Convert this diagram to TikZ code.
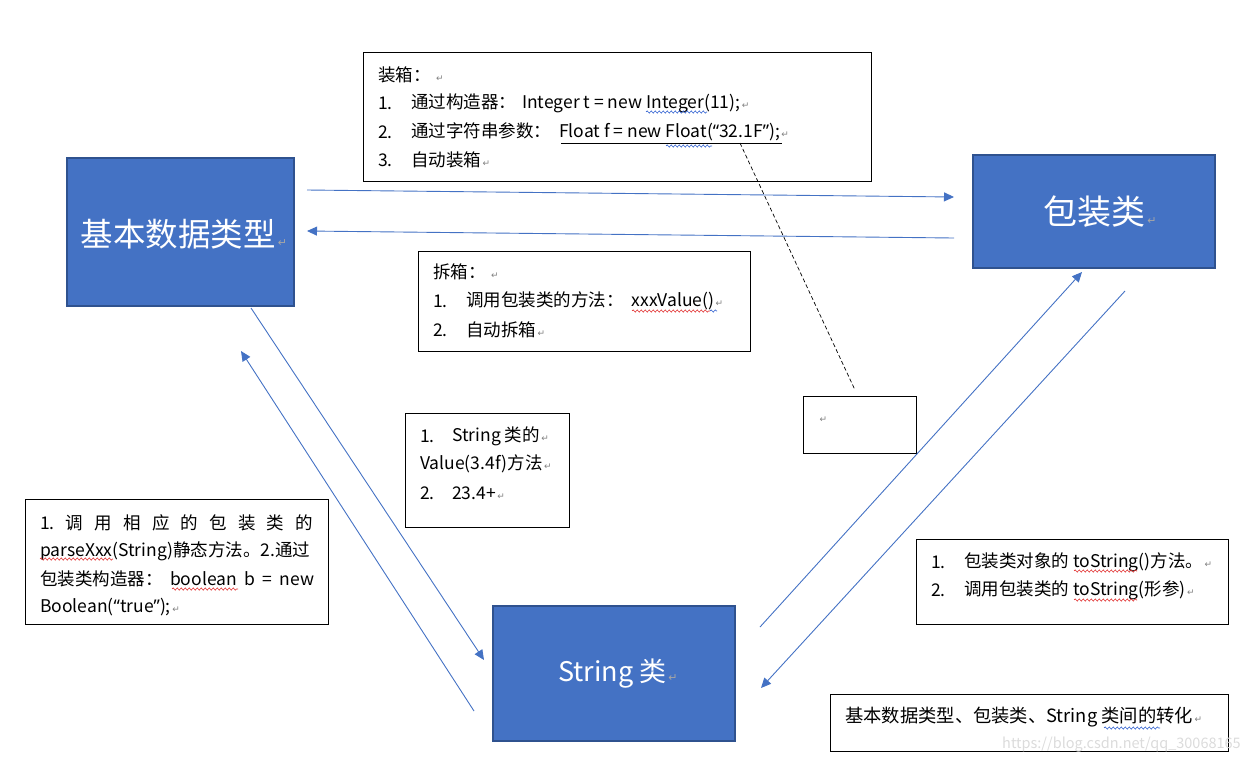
\documentclass[tikz,border=0pt]{standalone}
\usepackage{fontspec}
\usetikzlibrary{arrows.meta,decorations.pathmorphing}
\setmainfont{Noto Sans CJK SC}
\newfontfamily\cjk{Noto Sans CJK SC}
\newfontfamily\dvs{DejaVu Sans}
\newfontfamily\latq{Noto Sans}
\definecolor{boxblue}{HTML}{4472C4}
\definecolor{boxedge}{HTML}{2F528F}
\definecolor{lineblue}{HTML}{4472C4}
\definecolor{sqred}{HTML}{E03030}
\definecolor{sqblue}{HTML}{3060D0}
\newcommand{\retmk}{{\color{gray}\dvs\fontsize{9}{9}\selectfont\,↵}}
\newcommand{\bigretmk}{{\color{gray!70}\dvs\fontsize{11}{11}\selectfont\,↵}}
\newcommand{\oqt}{{\latq “}}
\newcommand{\cqt}{{\latq ”}}
\tikzset{
  bigbox/.style={draw=boxedge, fill=boxblue, line width=1.4pt, text=white, inner sep=0pt},
  notebox/.style={draw=black, line width=0.9pt, inner sep=0pt},
  conn/.style={draw=lineblue, line width=0.9pt, -{Triangle[length=10pt,width=9pt]}},
  txt/.style={anchor=west, inner sep=0pt, font=\cjk\fontsize{17.5}{17.5}\selectfont},
  sq/.style={line width=0.6pt, decorate, decoration={snake, amplitude=1.1pt, segment length=4pt}},
}
\begin{document}
\begin{tikzpicture}[x=1pt,y=-1pt]
\useasboundingbox (0,0) rectangle (1250,764);
% big boxes
\node[bigbox, minimum width=227pt, minimum height=148pt] (basic) at (180.5,232) {};
\node[bigbox, minimum width=242pt, minimum height=113pt] (wrap) at (1094,211.5) {};
\node[bigbox, minimum width=242pt, minimum height=135pt] (str) at (614,673.5) {};
\node[inner sep=0pt, text=white, font=\cjk\fontsize{32.5}{32.5}\selectfont] (basicT) at (184,234) {基本数据类型\bigretmk};
\node[inner sep=0pt, text=white, font=\cjk\fontsize{34}{34}\selectfont] (wrapT) at (1100,212) {包装类\bigretmk};
\node[inner sep=0pt, text=white, font=\cjk\fontsize{27}{27}\selectfont] (strT) at (618,674) {String 类\bigretmk};
% note boxes
\node[notebox, minimum width=508pt, minimum height=129pt] (boxing) at (617,116.5) {};
\node[notebox, minimum width=332pt, minimum height=100pt] (unbox) at (584,301) {};
\node[notebox, minimum width=164pt, minimum height=114pt] (strnote) at (487,470) {};
\node[notebox, minimum width=303pt, minimum height=125pt] (leftnote) at (176.5,561.5) {};
\node[notebox, minimum width=312pt, minimum height=85pt] (rightnote) at (1072,581.5) {};
\node[notebox, minimum width=398pt, minimum height=57pt] (caption) at (1029,722.5) {};
\node[notebox, minimum width=113pt, minimum height=57pt] (empty) at (859.5,424.5) {};
% boxing text
\node[txt] (b0) at (378,75) {装箱：\ \retmk};
\node[txt] (b1n) at (378,103) {1.};
\node[txt] (b1) at (411,103) {通过构造器：\hspace{6pt}Integer t = new Integer(11);\retmk};
\node[txt] (b2n) at (378,132) {2.};
\node[txt] (b2) at (411,132) {通过字符串参数：\hspace{8pt}Float f = new Float(\oqt 32.1F\cqt);\retmk};
\node[txt] (b3n) at (378,160) {3.};
\node[txt] (b3) at (411,160) {自动装箱\retmk};
% unboxing text
\node[txt] (u0) at (433,272) {拆箱：\ \retmk};
\node[txt] (u1n) at (433,301) {1.};
\node[txt] (u1) at (466,301) {调用包装类的方法：\hspace{8pt}xxxValue()\retmk};
\node[txt] (u2n) at (433,330) {2.};
\node[txt] (u2) at (466,330) {自动拆箱\retmk};
% string note
\node[txt] (s1n) at (420,436) {1.};
\node[txt] (s1) at (452,436) {String 类的\retmk};
\node[txt] (s2) at (420,464) {Value(3.4f)方法\retmk};
\node[txt] (s3n) at (420,493) {2.};
\node[txt] (s3) at (452,493) {23.4+\retmk};
% left note
\node[txt] (l1) at (40,523) {\makebox[273pt][l]{1.\hfill 调\hfill 用\hfill 相\hfill 应\hfill 的\hfill 包\hfill 装\hfill 类\hfill 的}};
\node[txt] (l2) at (40,551) {\makebox[274pt][s]{parseXxx(String)静态方法。2.通过}};
\node[txt] (l3) at (40,579) {\makebox[274pt][s]{包装类构造器：\ boolean b = new}};
\node[txt] (l4) at (40,607) {Boolean(\oqt true\cqt);\retmk};
% right note
\node[txt] (r1n) at (931,562) {1.};
\node[txt] (r1) at (964,562) {包装类对象的 toString()方法。\retmk};
\node[txt] (r2n) at (931,590) {2.};
\node[txt] (r2) at (964,590) {调用包装类的 toString(形参)\retmk};
% caption
\node[txt, font=\cjk\fontsize{18.3}{18.3}\selectfont] (cap) at (845,717) {基本数据类型、包装类、String 类间的转化\retmk};
\node[anchor=west, inner sep=0pt] (emptymk) at (818,420) {\retmk};
% watermark
\node[anchor=west, inner sep=0pt, text=gray!28, font=\cjk\fontsize{14.5}{14.5}\selectfont] (wm) at (1002,745) {https://blog.csdn.net/qq\_30068165};
% underline and squiggles
\draw[line width=0.7pt] (561,143) -- (782,143);
\draw[sq, sqblue] (646,112) -- (707,112);
\draw[sq, sqblue] (666,146) -- (712,146);
\draw[sq, sqred] (632,311) -- (710,311);
\draw[sq, sqblue] (710,311) -- (717,311);
\draw[sq, sqred] (40,559) -- (113,559);
\draw[sq, sqred] (172,589) -- (238,589);
\draw[sq, sqred] (1074,571) -- (1137,571);
\draw[sq, sqred] (1074,600) -- (1137,600);
\draw[sq, sqblue] (1104,728) -- (1160,728);
% connector endpoints
\coordinate (a1s) at (307,190);
\coordinate (a1e) at (954,197);
\coordinate (a2s) at (954,238);
\coordinate (a2e) at (307,231);
\coordinate (a3s) at (251,308);
\coordinate (a3e) at (484,660);
\coordinate (a4s) at (474,711);
\coordinate (a4e) at (241,351);
\coordinate (a5s) at (760,627);
\coordinate (a5e) at (1082,272);
\coordinate (a6s) at (1125,291);
\coordinate (a6e) at (761,688);
\coordinate (d1) at (740,143);
\coordinate (d2) at (855,390);
\draw[conn] (a1s) -- (a1e);
\draw[conn] (a2s) -- (a2e);
\draw[conn] (a3s) -- (a3e);
\draw[conn] (a4s) -- (a4e);
\draw[conn] (a5s) -- (a5e);
\draw[conn] (a6s) -- (a6e);
\draw[dashed, line width=0.7pt, dash pattern=on 4pt off 2.5pt] (d1) -- (d2);
\end{tikzpicture}
\end{document}
